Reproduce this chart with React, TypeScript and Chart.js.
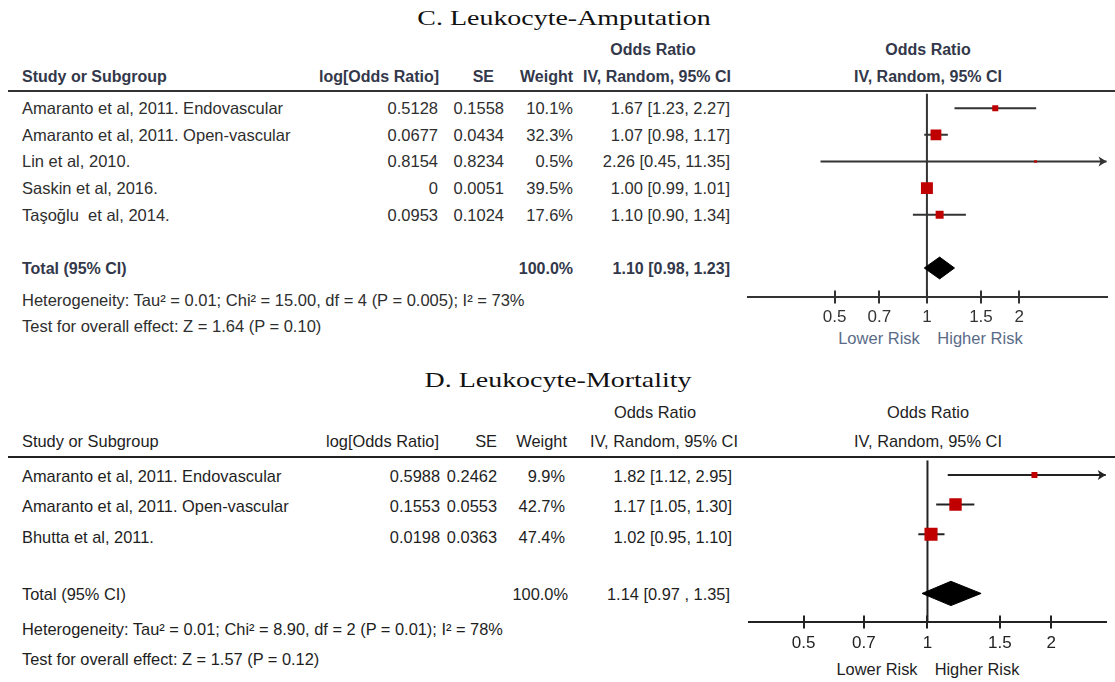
import React, { useEffect, useRef } from "react";
import { Chart, registerables } from "chart.js";
Chart.register(...registerables);

const W = 1115;
const H = 682;

// ---------- Panel C data ----------
const titleC = "C. Leukocyte-Amputation";
const studiesC = [
  "Amaranto et al, 2011. Endovascular",
  "Amaranto et al, 2011. Open-vascular",
  "Lin et al, 2010.",
  "Saskin et al, 2016.",
  "Taşoğlu  et al, 2014.",
];
const logOrC = [0.5128, 0.0677, 0.8154, 0, 0.0953];
const seC = [0.1558, 0.0434, 0.8234, 0.0051, 0.1024];
const weightC = [10.1, 32.3, 0.5, 39.5, 17.6];
const orC = [1.67, 1.07, 2.26, 1.0, 1.1];
const loC = [1.23, 0.98, 0.45, 0.99, 0.9];
const hiC = [2.27, 1.17, 11.35, 1.01, 1.34];
const totalC = [1.1, 0.98, 1.23];
const hetC = "Heterogeneity: Tau² = 0.01; Chi² = 15.00, df = 4 (P = 0.005); I² = 73%";
const testC = "Test for overall effect: Z = 1.64 (P = 0.10)";
const xRangeC = [0.262, 3.85];

// ---------- Panel D data ----------
const titleD = "D. Leukocyte-Mortality";
const studiesD = [
  "Amaranto et al, 2011. Endovascular",
  "Amaranto et al, 2011. Open-vascular",
  "Bhutta et al, 2011.",
];
const logOrD = [0.5988, 0.1553, 0.0198];
const seD = [0.2462, 0.0553, 0.0363];
const weightD = [9.9, 42.7, 47.4];
const orD = [1.82, 1.17, 1.02];
const loD = [1.12, 1.05, 0.95];
const hiD = [2.95, 1.3, 1.1];
const totalD = [1.14, 0.97, 1.35];
const hetD = "Heterogeneity: Tau² = 0.01; Chi² = 8.90, df = 2 (P = 0.01); I² = 78%";
const testD = "Test for overall effect: Z = 1.57 (P = 0.12)";
const xRangeD = [0.3687, 2.713];

const tickValues = [0.5, 0.7, 1, 1.5, 2];

const SANS = "'Liberation Sans', Arial, sans-serif";
const SERIF = "'Liberation Serif', 'Times New Roman', serif";

const fmtCI = (o: number, l: number, h: number, sep = ", ") =>
  `${o.toFixed(2)} [${l.toFixed(2)}${sep}${h.toFixed(2)}]`;

const forestExtras = {
  id: "forestExtras",
  afterDatasetsDraw(chart: any, _args: any, opts: any) {
    const { ctx, chartArea, scales } = chart;
    const x = scales.x;
    const y = scales.y;
    ctx.save();
    ctx.strokeStyle = opts.color || "#333";
    ctx.fillStyle = opts.color || "#333";
    ctx.lineWidth = 2;
    // upper half of tick marks (they cross the axis)
    x.ticks.forEach((t: any) => {
      const px = Math.round(x.getPixelForValue(t.value));
      ctx.beginPath();
      ctx.moveTo(px, chartArea.bottom);
      ctx.lineTo(px, chartArea.bottom - 6);
      ctx.stroke();
    });
    // arrow heads for intervals beyond the axis
    (opts.hi || []).forEach((h: number, i: number) => {
      if (h > x.max) {
        const px = chartArea.right;
        const py = y.getPixelForValue(i);
        ctx.beginPath();
        ctx.moveTo(px, py);
        ctx.lineTo(px - 8, py - 5);
        ctx.lineTo(px - 6, py);
        ctx.lineTo(px - 8, py + 5);
        ctx.closePath();
        ctx.fill();
      }
    });
    ctx.restore();
  },
};

type ForestProps = {
  left: number;
  top: number;
  width: number;
  height: number;
  padL: number;
  padR: number;
  padT: number;
  xRange: number[];
  yRange: number[];
  or: number[];
  lo: number[];
  hi: number[];
  weight: number[];
  total: number[];
  totalIdx: number;
  diamondHalf: number;
  sqK: number;
  tickPad: number;
  color: string;
  tickColor: string;
};

function Forest(p: ForestProps) {
  const ref = useRef<HTMLCanvasElement | null>(null);
  useEffect(() => {
    if (!ref.current) return;
    const datasets: any[] = [];
    datasets.push({
      label: "weights",
      data: p.or.map((v, i) => ({ x: v, y: i })),
      pointStyle: "rect",
      pointRadius: p.weight.map((w) => Math.max(1.9, (p.sqK * Math.sqrt(w)) / Math.SQRT2)),
      pointBackgroundColor: "#c00000",
      pointBorderWidth: 0,
      showLine: false,
      order: 0,
    });
    datasets.push({
      label: "total",
      data: [
        { x: p.total[1], y: p.totalIdx },
        { x: p.total[0], y: p.totalIdx - p.diamondHalf },
        { x: p.total[2], y: p.totalIdx },
        { x: p.total[0], y: p.totalIdx + p.diamondHalf },
        { x: p.total[1], y: p.totalIdx },
      ],
      showLine: true,
      fill: "shape",
      backgroundColor: "#000",
      borderColor: "#000",
      borderWidth: 1,
      pointRadius: 0,
      tension: 0,
      order: 1,
    });
    p.lo.forEach((l, i) => {
      datasets.push({
        label: "ci" + i,
        data: [
          { x: l, y: i },
          { x: p.hi[i], y: i },
        ],
        showLine: true,
        borderColor: p.color,
        borderWidth: 2,
        pointRadius: 0,
        order: 2,
      });
    });
    datasets.push({
      label: "null",
      data: [
        { x: 1, y: p.yRange[0] },
        { x: 1, y: p.yRange[1] },
      ],
      showLine: true,
      borderColor: p.color,
      borderWidth: 2,
      pointRadius: 0,
      order: 3,
    });

    const chart = new Chart(ref.current, {
      type: "scatter",
      data: { datasets },
      options: {
        animation: false,
        responsive: true,
        maintainAspectRatio: false,
        events: [],
        layout: { padding: { left: p.padL, right: p.padR, top: p.padT, bottom: 0 } },
        plugins: {
          legend: { display: false },
          tooltip: { enabled: false },
          forestExtras: { hi: p.hi, color: p.color },
        } as any,
        scales: {
          x: {
            type: "logarithmic",
            position: "bottom",
            min: p.xRange[0],
            max: p.xRange[1],
            bounds: "data",
            afterBuildTicks: (s: any) => {
              s.ticks = tickValues.map((v) => ({ value: v }));
            },
            ticks: {
              autoSkip: false,
              maxRotation: 0,
              padding: p.tickPad,
              color: p.tickColor,
              font: { family: SANS, size: 17 },
              callback: (v: any) => String(v),
            },
            grid: {
              display: true,
              drawOnChartArea: false,
              drawTicks: true,
              tickLength: 7,
              tickWidth: 2,
              tickColor: p.color,
              color: p.color,
              lineWidth: 2,
            },
            border: { display: true, color: p.color, width: 2 },
          } as any,
          y: {
            type: "linear",
            display: false,
            reverse: true,
            min: p.yRange[0],
            max: p.yRange[1],
          },
        },
      },
      plugins: [forestExtras as any],
    });
    return () => chart.destroy();
  }, []);
  return (
    <div
      style={{
        position: "absolute",
        left: p.left,
        top: p.top,
        width: p.width,
        height: p.height,
      }}
    >
      <canvas ref={ref} />
    </div>
  );
}

type TxtProps = {
  x: number;
  y: number;
  a?: "left" | "right" | "center";
  children: React.ReactNode;
  s?: React.CSSProperties;
  sx?: number;
};

function Txt({ x, y, a = "left", children, s, sx }: TxtProps) {
  const style: React.CSSProperties = {
    position: "absolute",
    top: y - 12,
    height: 24,
    lineHeight: "24px",
    whiteSpace: "pre",
    ...s,
  };
  if (a === "left") style.left = x;
  else if (a === "right") style.right = W - x;
  else {
    style.left = x;
    style.transform = `translateX(-50%)${sx ? ` scaleX(${sx})` : ""}`;
  }
  return <div style={style}>{children}</div>;
}

export default function App() {
  const cText: React.CSSProperties = { fontFamily: SANS, fontSize: 16.5, color: "#2e2e2e" };
  const cHead: React.CSSProperties = { fontFamily: SANS, fontSize: 16, fontWeight: "bold", color: "#33384a" };
  const cRisk: React.CSSProperties = { fontFamily: SANS, fontSize: 16.5, color: "#5a6b88" };
  const dText: React.CSSProperties = { fontFamily: SANS, fontSize: 16.4, color: "#1e1e1e" };
  const titleS: React.CSSProperties = { fontFamily: SERIF, fontSize: 22, color: "#111" };

  const rowYC = (i: number) => 108 + 26.7 * i;
  const rowYD = [476, 506, 537];

  return (
    <div
      style={{
        position: "absolute",
        left: 0,
        top: 0,
        width: W,
        height: H,
        background: "#fff",
        overflow: "hidden",
      }}
    >
      {/* ===== Panel C ===== */}
      <Txt x={564} y={18} a="center" s={titleS} sx={1.27}>{titleC}</Txt>
      <Txt x={653} y={50} a="center" s={cHead}>Odds Ratio</Txt>
      <Txt x={928} y={50} a="center" s={cHead}>Odds Ratio</Txt>
      <Txt x={22} y={77} s={cHead}>Study or Subgroup</Txt>
      <Txt x={439} y={77} a="right" s={cHead}>log[Odds Ratio]</Txt>
      <Txt x={494} y={77} a="right" s={cHead}>SE</Txt>
      <Txt x={573} y={77} a="right" s={cHead}>Weight</Txt>
      <Txt x={731} y={77} a="right" s={cHead}>IV, Random, 95% CI</Txt>
      <Txt x={928} y={77} a="center" s={cHead}>IV, Random, 95% CI</Txt>
      <div style={{ position: "absolute", left: 8, top: 90, width: W - 8, height: 2, background: "#333" }} />
      {studiesC.map((st, i) => (
        <React.Fragment key={"c" + i}>
          <Txt x={22} y={rowYC(i)} s={cText}>{st}</Txt>
          <Txt x={438} y={rowYC(i)} a="right" s={cText}>{String(logOrC[i])}</Txt>
          <Txt x={504} y={rowYC(i)} a="right" s={cText}>{String(seC[i])}</Txt>
          <Txt x={573} y={rowYC(i)} a="right" s={cText}>{weightC[i].toFixed(1) + "%"}</Txt>
          <Txt x={730} y={rowYC(i)} a="right" s={cText}>{fmtCI(orC[i], loC[i], hiC[i])}</Txt>
        </React.Fragment>
      ))}
      <Txt x={22} y={269} s={cHead}>Total (95% CI)</Txt>
      <Txt x={573} y={269} a="right" s={cHead}>100.0%</Txt>
      <Txt x={730} y={269} a="right" s={cHead}>{fmtCI(totalC[0], totalC[1], totalC[2])}</Txt>
      <Txt x={22} y={300} s={cText}>{hetC}</Txt>
      <Txt x={22} y={326} s={cText}>{testC}</Txt>
      <Txt x={879} y={338} a="center" s={cRisk}>Lower Risk</Txt>
      <Txt x={980} y={338} a="center" s={cRisk}>Higher Risk</Txt>
      <Forest
        left={740}
        top={85}
        width={375}
        height={247}
        padL={7}
        padR={5}
        padT={6}
        xRange={xRangeC}
        yRange={[-0.556, 7.074]}
        or={orC}
        lo={loC}
        hi={hiC}
        weight={weightC}
        total={totalC}
        totalIdx={6}
        diamondHalf={0.41}
        sqK={1.9}
        tickPad={4}
        color="#333"
        tickColor="#333"
      />

      {/* ===== Panel D ===== */}
      <Txt x={558} y={380} a="center" s={titleS} sx={1.27}>{titleD}</Txt>
      <Txt x={655} y={412} a="center" s={dText}>Odds Ratio</Txt>
      <Txt x={928} y={412} a="center" s={dText}>Odds Ratio</Txt>
      <Txt x={22} y={441} s={dText}>Study or Subgroup</Txt>
      <Txt x={439} y={441} a="right" s={dText}>log[Odds Ratio]</Txt>
      <Txt x={497} y={441} a="right" s={dText}>SE</Txt>
      <Txt x={567} y={441} a="right" s={dText}>Weight</Txt>
      <Txt x={738} y={441} a="right" s={dText}>IV, Random, 95% CI</Txt>
      <Txt x={928} y={441} a="center" s={dText}>IV, Random, 95% CI</Txt>
      <div style={{ position: "absolute", left: 8, top: 456, width: W - 8, height: 2, background: "#222" }} />
      {studiesD.map((st, i) => (
        <React.Fragment key={"d" + i}>
          <Txt x={22} y={rowYD[i]} s={dText}>{st}</Txt>
          <Txt x={440} y={rowYD[i]} a="right" s={dText}>{String(logOrD[i])}</Txt>
          <Txt x={497} y={rowYD[i]} a="right" s={dText}>{String(seD[i])}</Txt>
          <Txt x={565} y={rowYD[i]} a="right" s={dText}>{weightD[i].toFixed(1) + "%"}</Txt>
          <Txt x={732} y={rowYD[i]} a="right" s={dText}>{fmtCI(orD[i], loD[i], hiD[i])}</Txt>
        </React.Fragment>
      ))}
      <Txt x={22} y={594} s={dText}>Total (95% CI)</Txt>
      <Txt x={568} y={594} a="right" s={dText}>100.0%</Txt>
      <Txt x={730} y={594} a="right" s={dText}>{fmtCI(totalD[0], totalD[1], totalD[2], " , ")}</Txt>
      <Txt x={22} y={629} s={dText}>{hetD}</Txt>
      <Txt x={22} y={659} s={dText}>{testD}</Txt>
      <Txt x={877} y={669} a="center" s={dText}>Lower Risk</Txt>
      <Txt x={977} y={669} a="center" s={dText}>Higher Risk</Txt>
      <Forest
        left={740}
        top={451}
        width={375}
        height={208}
        padL={8}
        padR={7}
        padT={6}
        xRange={xRangeD}
        yRange={[-0.495, 4.95]}
        or={orD}
        lo={loD}
        hi={hiD}
        weight={weightD}
        total={totalD}
        totalIdx={4}
        diamondHalf={0.41}
        sqK={1.9}
        tickPad={5}
        color="#222"
        tickColor="#222"
      />
    </div>
  );
}
